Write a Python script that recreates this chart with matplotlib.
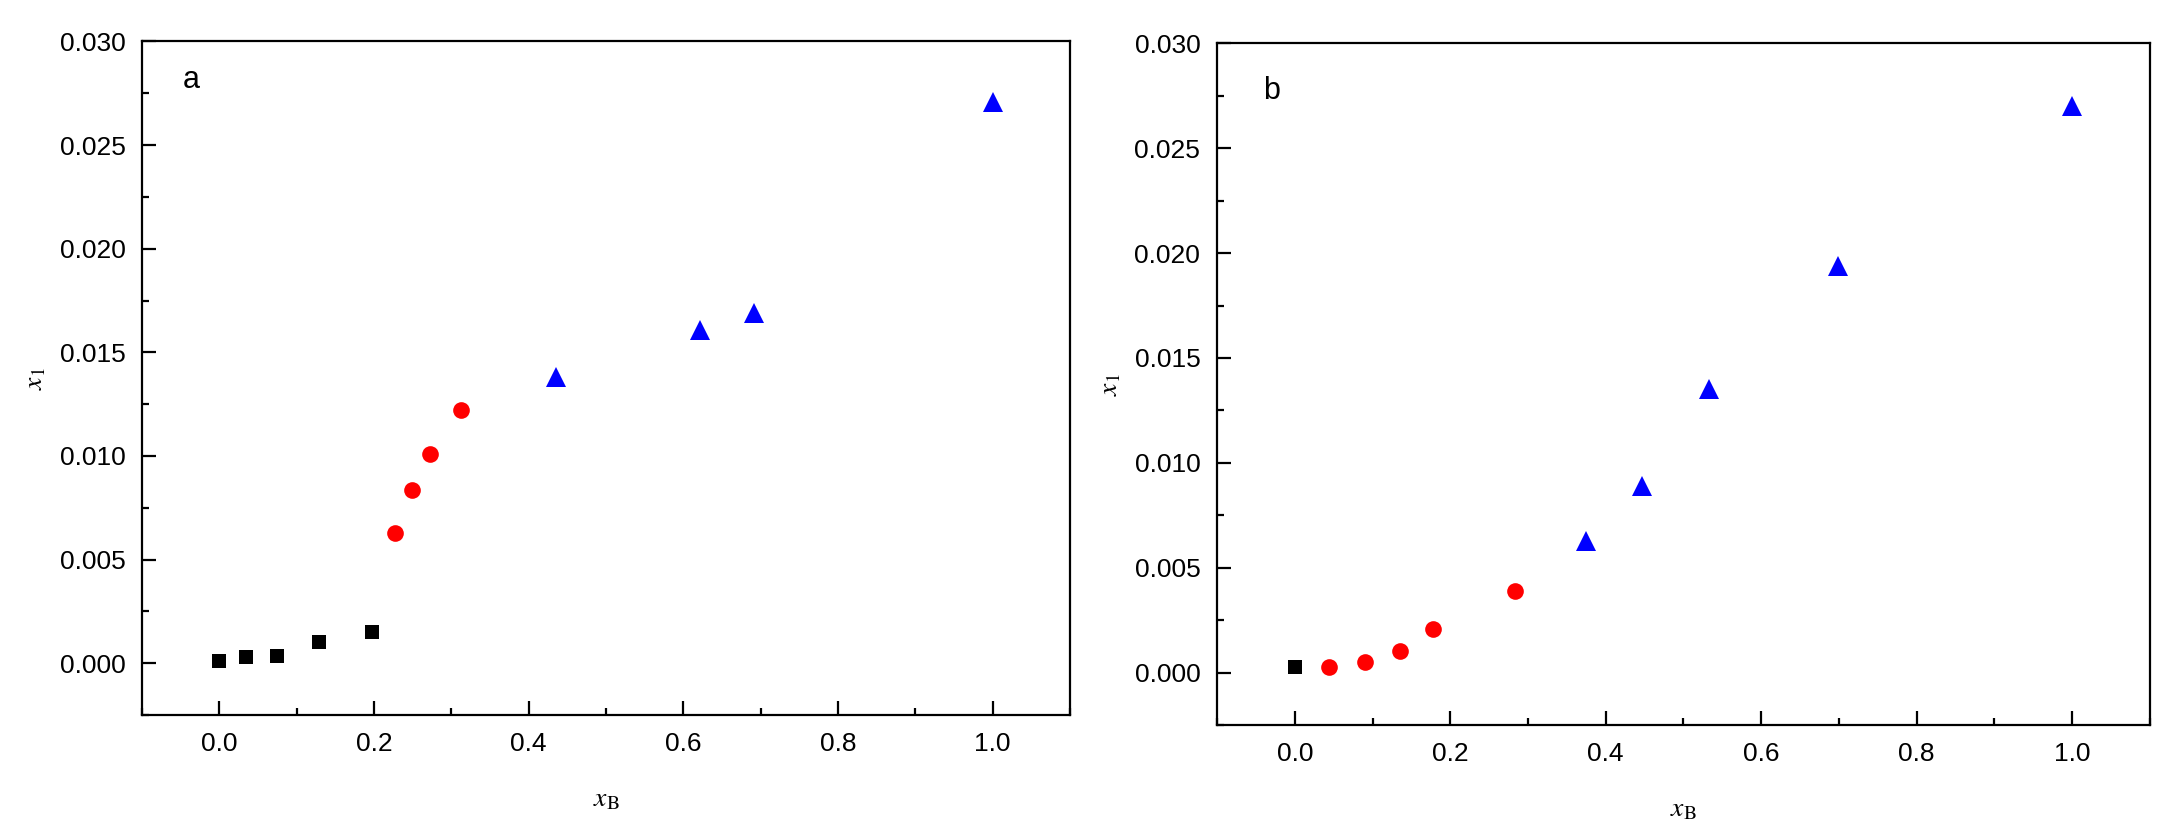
import numpy as np
import matplotlib
matplotlib.use('Agg')
import matplotlib.pyplot as plt
from matplotlib.ticker import MultipleLocator

plt.rcParams['font.family'] = ['Liberation Sans', 'DejaVu Sans']
plt.rcParams['mathtext.fontset'] = 'stix'

# panel a
a_sq_x = [0.0, 0.035, 0.075, 0.129, 0.198]
a_sq_y = [0.0001, 0.00032, 0.00037, 0.0010, 0.0015]
a_ci_x = [0.2275, 0.249, 0.2725, 0.313]
a_ci_y = [0.0063, 0.00836, 0.0101, 0.0122]
a_tr_x = [0.435, 0.622, 0.692, 1.0]
a_tr_y = [0.0138, 0.0161, 0.0169, 0.0271]

# panel b
b_sq_x = [0.0]
b_sq_y = [0.00025]
b_ci_x = [0.044, 0.090, 0.135, 0.178, 0.283]
b_ci_y = [0.00029, 0.00052, 0.00105, 0.0021, 0.0039]
b_tr_x = [0.374, 0.447, 0.533, 0.699, 1.0]
b_tr_y = [0.00625, 0.0089, 0.0135, 0.0194, 0.0270]

fig = plt.figure(figsize=(21.69, 8.38), dpi=100)
ax1 = fig.add_axes([0.0655, 0.1468, 0.4278, 0.8037])
ax2 = fig.add_axes([0.5611, 0.1348, 0.4301, 0.8135])

panels = [
    (ax1, 'a', (a_sq_x, a_sq_y), (a_ci_x, a_ci_y), (a_tr_x, a_tr_y), (0.044, 0.943)),
    (ax2, 'b', (b_sq_x, b_sq_y), (b_ci_x, b_ci_y), (b_tr_x, b_tr_y), (0.049, 0.93)),
]

for ax, letter, sq, ci, tr, lpos in panels:
    ax.plot(sq[0], sq[1], 's', color='black', ms=10, mew=0, linestyle='none')
    ax.plot(ci[0], ci[1], 'o', color='#ff0000', ms=12, mew=0, linestyle='none')
    ax.plot(tr[0], tr[1], '^', color='#0000ff', ms=14, mew=0, linestyle='none')

    ax.set_xlim(-0.1, 1.1)
    ax.set_ylim(-0.0025, 0.030)
    ax.xaxis.set_major_locator(MultipleLocator(0.2))
    ax.xaxis.set_minor_locator(MultipleLocator(0.1))
    ax.yaxis.set_major_locator(MultipleLocator(0.005))
    ax.yaxis.set_minor_locator(MultipleLocator(0.0025))
    ax.xaxis.set_major_formatter(matplotlib.ticker.FormatStrFormatter('%.1f'))
    ax.yaxis.set_major_formatter(matplotlib.ticker.FormatStrFormatter('%.3f'))

    ax.tick_params(which='both', direction='in', top=False, right=False,
                   width=1.6, labelsize=19)
    ax.tick_params(which='major', length=10, pad=12)
    ax.tick_params(which='minor', length=5)
    for s in ax.spines.values():
        s.set_linewidth(1.6)

    ax.set_xlabel(r'$x_{\mathrm{B}}$', fontsize=20, labelpad=22)
    ax.set_ylabel(r'$x_1$', fontsize=20, labelpad=8)
    ax.text(lpos[0], lpos[1], letter, transform=ax.transAxes,
            fontsize=22, va='center', ha='left')

fig.savefig('out.png', dpi=100)
